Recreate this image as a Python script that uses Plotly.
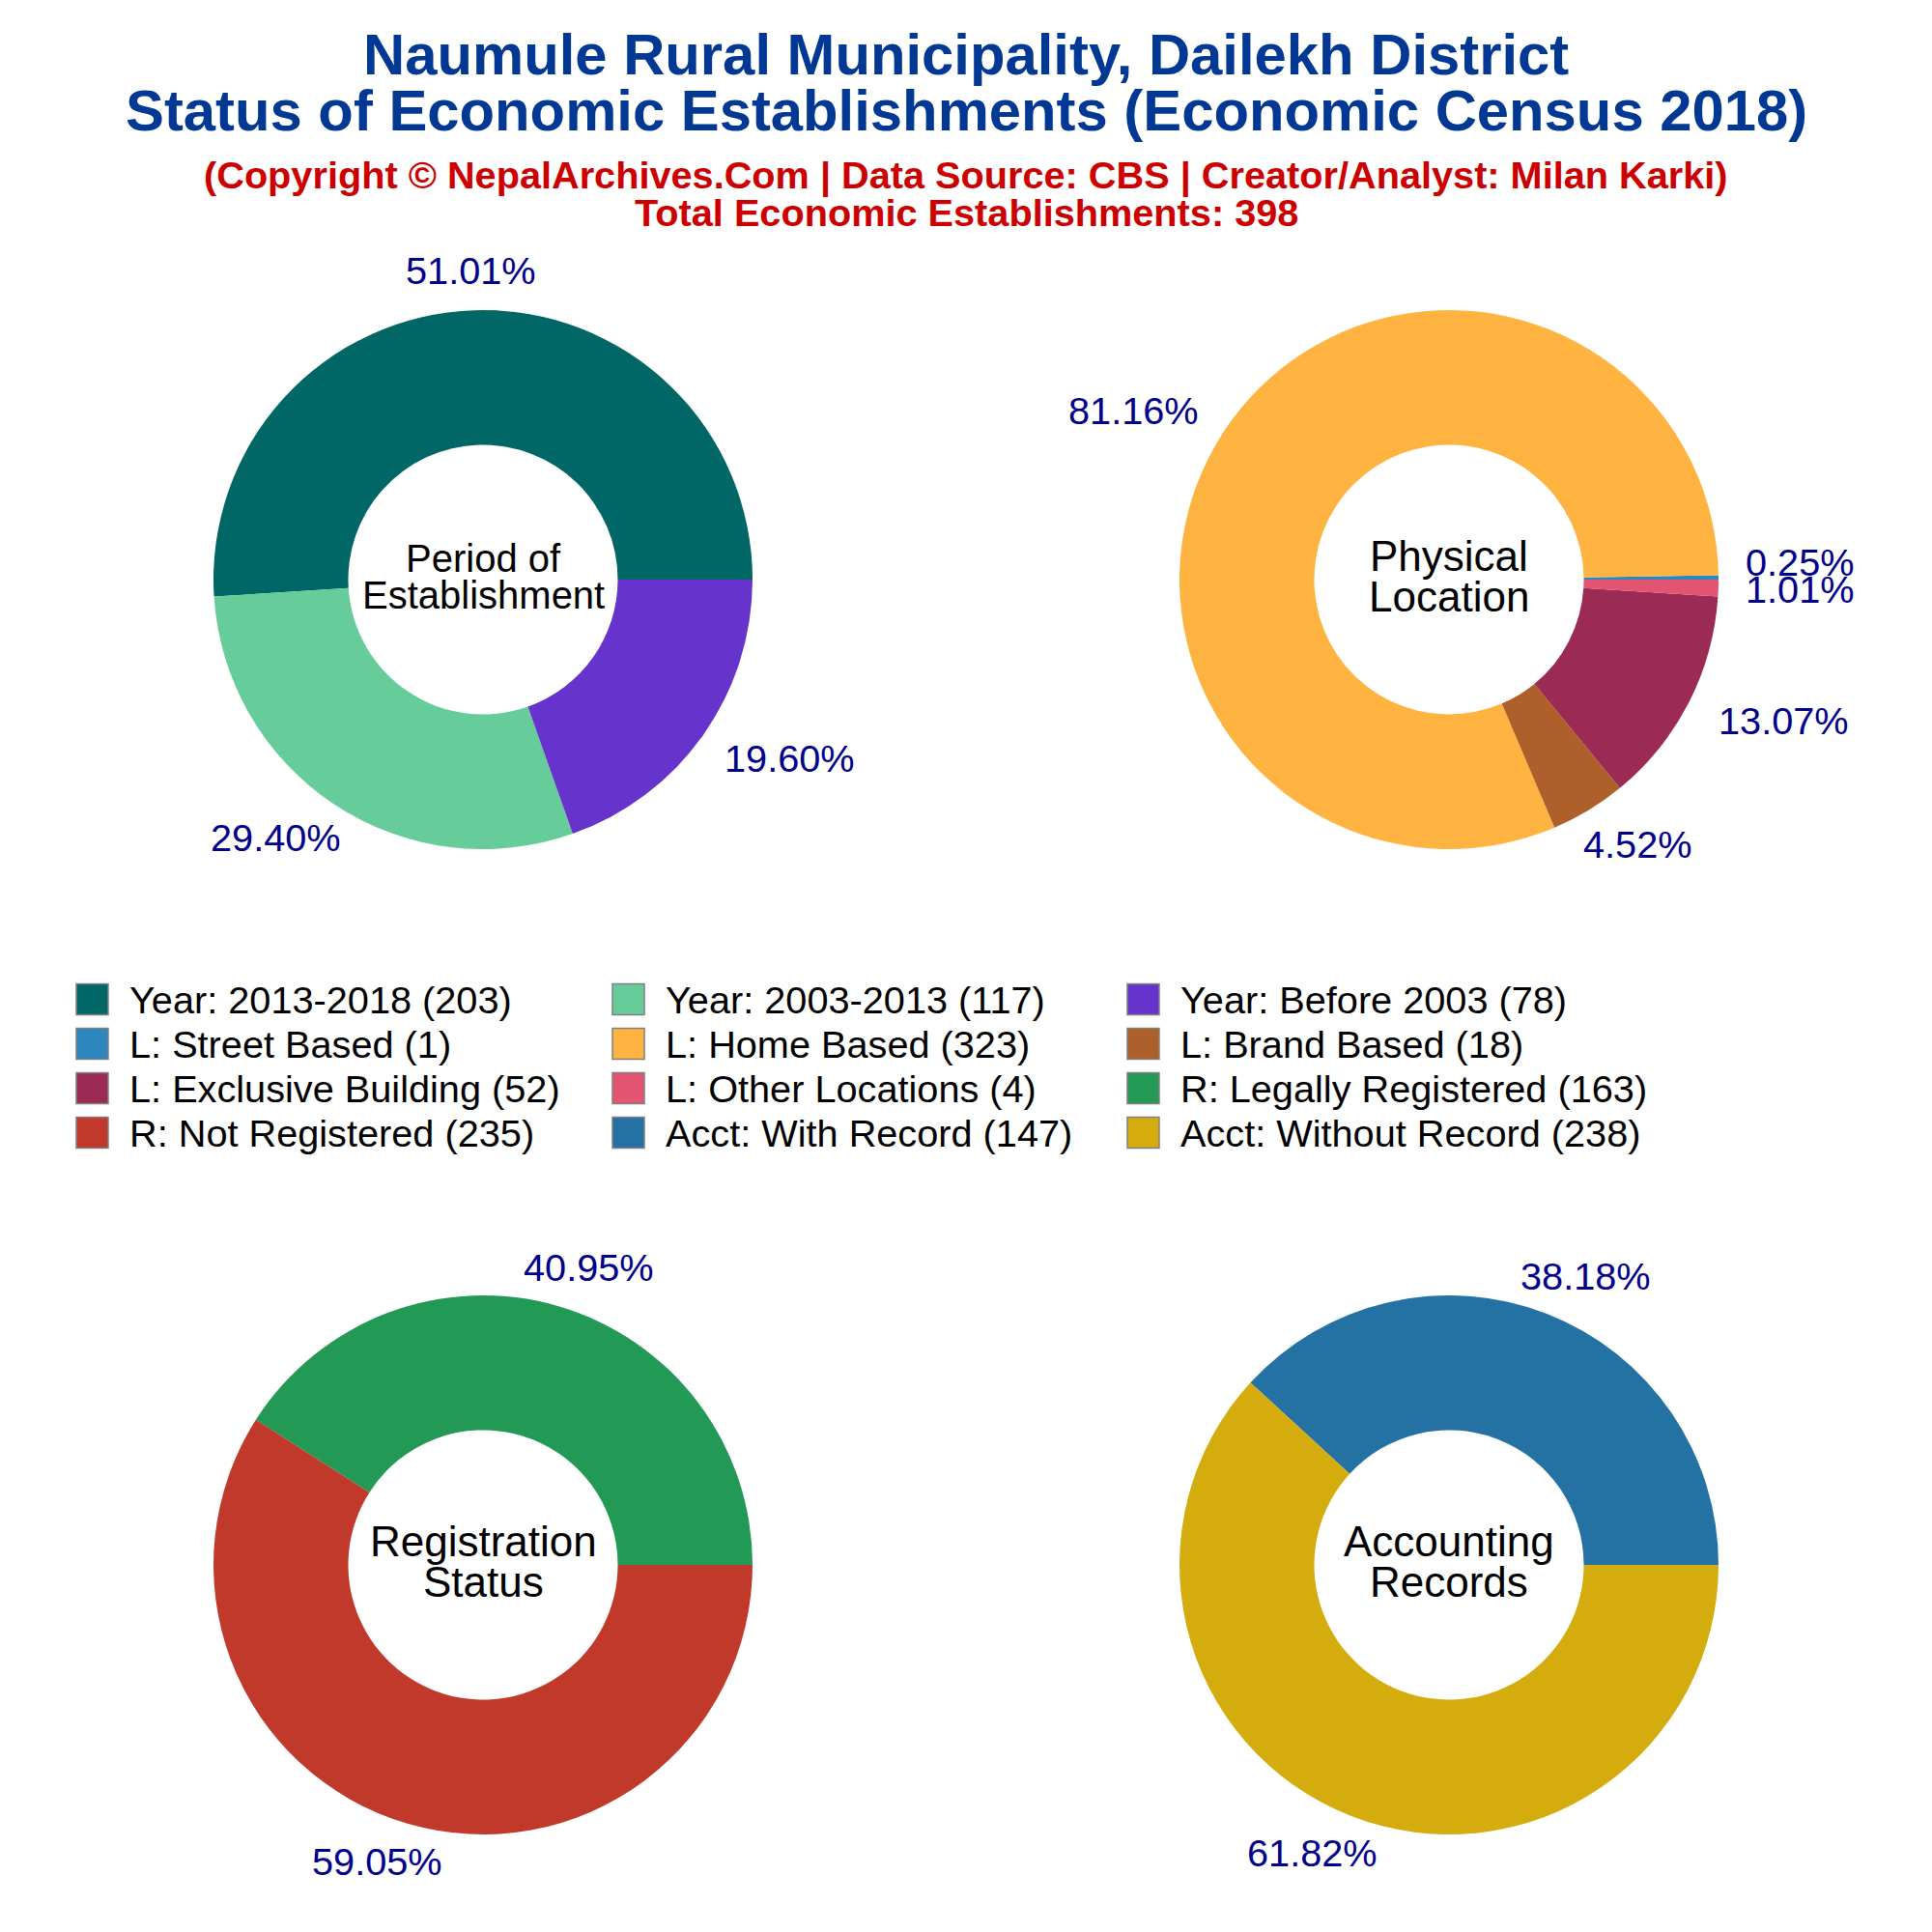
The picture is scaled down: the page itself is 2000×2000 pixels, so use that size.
import math
import plotly.graph_objects as go

period_labels = ['Year: 2013-2018', 'Year: 2003-2013', 'Year: Before 2003']
period_values = [203, 117, 78]
period_colors = ['#006666', '#66CC99', '#6633CC']

location_labels = ['L: Street Based', 'L: Home Based', 'L: Brand Based', 'L: Exclusive Building', 'L: Other Locations']
location_values = [1, 323, 18, 52, 4]
location_colors = ['#2E86C1', '#FFB340', '#AF602A', '#9B2A55', '#E35471']

registration_labels = ['R: Legally Registered', 'R: Not Registered']
registration_values = [163, 235]
registration_colors = ['#229954', '#C0392B']

account_labels = ['Acct: With Record', 'Acct: Without Record']
account_values = [147, 238]
account_colors = ['#2471A3', '#D4AC0D']

FONT = 'Liberation Sans, Arial, sans-serif'
SIZE = 2000
PAGE_MARGIN = 8  # the browser body margin pushes the plot down and right
LABEL_RADIUS = 318


def fx(v):
    return (v - PAGE_MARGIN) / SIZE


def fy(v):
    return 1 - (v - PAGE_MARGIN) / SIZE


def add_text(fig, text, x, y, size, color, anchor='center'):
    fig.add_annotation(text=text, x=fx(x), y=fy(y), xref='paper', yref='paper',
                       xanchor=anchor, yanchor='middle', showarrow=False,
                       font=dict(family=FONT, size=size, color=color))


def add_pie(fig, labels, values, colors, title_lines, title_size, left, top, gap, nudges=None):
    # with counterclockwise plotly ends the first slice at the rotation angle,
    # so turn it back by that slice to start at 3 o'clock
    total = sum(values)
    rotation = 90 - 360 * values[0] / total
    fig.add_trace(go.Pie(
        labels=labels,
        values=values,
        hole=0.5,
        sort=False,
        direction='counterclockwise',
        rotation=rotation,
        marker=dict(colors=colors, line=dict(width=0)),
        textinfo='none',
        domain=dict(x=[fx(left), fx(left + 558)], y=[fy(top + 558), fy(top)]),
        showlegend=False,
    ))
    cx = left + 279
    cy = top + 279

    # percent labels sit round the ring, no leader lines
    done = 0
    for i, value in enumerate(values):
        angle = 2 * math.pi * (done + value / 2) / total
        done += value
        text = '%.2f%%' % (100 * value / total)
        width = 22.3 * len(text)
        x = cx + (LABEL_RADIUS + 0.53 * width) * math.cos(angle)
        y = cy - LABEL_RADIUS * math.sin(angle) - 0.25 - 2.25 * math.sin(angle)
        if nudges and i in nudges:
            x += nudges[i][0]
            y += nudges[i][1]
        add_text(fig, text, x, y, 39.7, '#00008B')

    # hole text: two lines set close together
    add_text(fig, title_lines[0], cx, cy - gap[0], title_size, 'black')
    add_text(fig, title_lines[1], cx, cy + gap[1], title_size, 'black')


fig = go.Figure()
add_pie(fig, period_labels, period_values, period_colors, ['Period of', 'Establishment'], 40, 221, 321, (22, 16))
add_pie(fig, location_labels, location_values, location_colors, ['Physical', 'Location'], 44, 1221, 321, (25, 17),
        nudges={0: (-14, -15), 4: (-13, 0)})
add_pie(fig, registration_labels, registration_values, registration_colors, ['Registration', 'Status'], 44, 221, 1341, (25, 17))
add_pie(fig, account_labels, account_values, account_colors, ['Accounting', 'Records'], 44, 1221, 1341, (25, 17))

# header lines
add_text(fig, '<b>Naumule Rural Municipality, Dailekh District</b>', 1000, 56, 59.8, '#003893')
add_text(fig, '<b>Status of Economic Establishments (Economic Census 2018)</b>', 1000, 115, 59.8, '#003893')
add_text(fig, '<b>(Copyright © NepalArchives.Com | Data Source: CBS | Creator/Analyst: Milan Karki)</b>', 1000, 182, 39.7, '#CC0000')
add_text(fig, '<b>Total Economic Establishments: 398</b>', 1000, 220, 39.7, '#CC0000')

# legend, three columns filled row by row
all_labels = period_labels + location_labels + registration_labels + account_labels
all_values = period_values + location_values + registration_values + account_values
all_colors = period_colors + location_colors + registration_colors + account_colors
col_x = [79, 634, 1167]
row_y = [1034.5, 1080.5, 1126.5, 1172.5]
for i, (label, value, color) in enumerate(zip(all_labels, all_values, all_colors)):
    x0 = col_x[i % 3]
    y0 = row_y[i // 3]
    fig.add_shape(type='rect', xref='paper', yref='paper',
                  x0=fx(x0), x1=fx(x0 + 33), y0=fy(y0 - 16), y1=fy(y0 + 16),
                  fillcolor=color, line=dict(color='#808080', width=1.5))
    add_text(fig, '%s (%d)' % (label, value), x0 + 53, y0, 39.7, 'black', anchor='left')

fig.update_layout(
    width=SIZE,
    height=SIZE,
    margin=dict(l=0, r=0, t=0, b=0),
    paper_bgcolor='white',
    plot_bgcolor='white',
    font=dict(family=FONT),
)

fig.write_html("out.html")
